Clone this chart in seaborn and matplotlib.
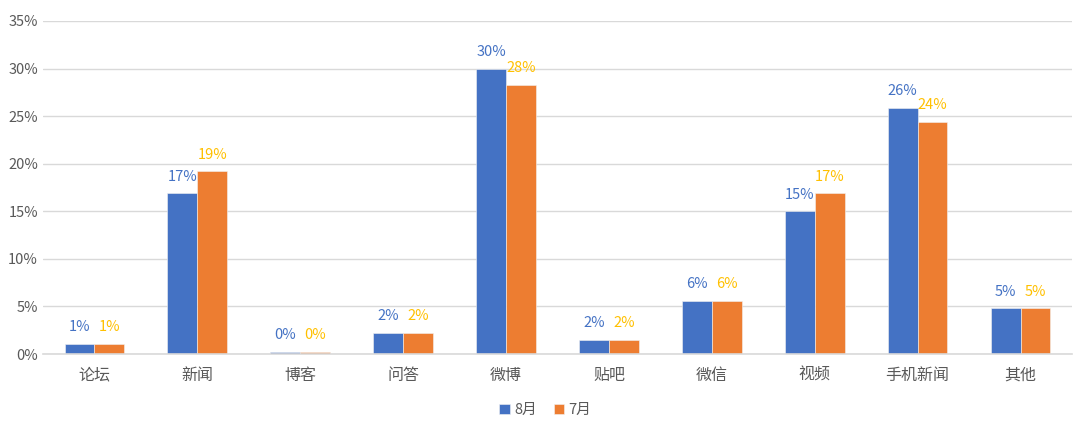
import pandas as pd
import matplotlib.pyplot as plt
import seaborn as sns
from matplotlib.ticker import FuncFormatter

# 数据（百分比）
categorias = ['论坛', '新闻', '博客', '问答', '微博', '贴吧', '微信', '视频', '手机新闻', '其他']
agosto = [1.1, 16.9, 0.2, 2.2, 30.0, 1.5, 5.6, 15.0, 25.9, 4.8]
julho = [1.1, 19.2, 0.2, 2.2, 28.3, 1.5, 5.6, 16.9, 24.4, 4.8]
series = ['8月', '7月']

df = pd.DataFrame({
    'cat': categorias * 2,
    'valor': agosto + julho,
    'mes': [series[0]] * len(categorias) + [series[1]] * len(categorias),
})

sns.set_style('white')
plt.rcParams['font.family'] = ['Noto Sans CJK SC', 'DejaVu Sans']

cores = {'8月': '#4472C4', '7月': '#ED7D31'}
cores_rotulo = {'8月': '#4472C4', '7月': '#FFC000'}

fig = plt.figure(figsize=(10.8, 4.24), dpi=100)
ax = fig.add_axes([0.0398, 0.165, 0.9528, 0.7855])

sns.barplot(data=df, x='cat', y='valor', hue='mes', palette=cores, width=0.58,
            gap=0, saturation=1, edgecolor='#F2F2F2', linewidth=0.4, ax=ax, legend=True)

for cont, nome in zip(ax.containers, series):
    ax.bar_label(cont, labels=[f'{v:.0f}%' for v in cont.datavalues],
                 padding=7, color=cores_rotulo[nome], fontsize=10.5)

ax.set_ylim(0, 35)
ax.set_yticks(range(0, 36, 5))
ax.yaxis.set_major_formatter(FuncFormatter(lambda v, p: f'{v:.0f}%'))
ax.grid(axis='y', color='#D9D9D9', linewidth=1)
ax.set_axisbelow(True)
for s in ['top', 'right', 'left']:
    ax.spines[s].set_visible(False)
ax.spines['bottom'].set_color('#D9D9D9')
ax.spines['bottom'].set_linewidth(1.2)
ax.tick_params(axis='y', length=0, colors='#595959', labelsize=10.5)
ax.tick_params(axis='x', length=0, colors='#595959', labelsize=11.5, pad=9)
ax.set_xlabel('')
ax.set_ylabel('')
ax.set_xlim(-0.5, len(categorias) - 0.5)

handles, labels = ax.get_legend_handles_labels()
ax.get_legend().remove()
fig.legend(handles, labels, loc='center', bbox_to_anchor=(0.505, 0.033), ncol=2,
           frameon=False, fontsize=10.5, handlelength=0.7, handleheight=0.7,
           handletextpad=0.3, columnspacing=1.2, labelcolor='#595959')

plt.savefig('out.png', dpi=100)
